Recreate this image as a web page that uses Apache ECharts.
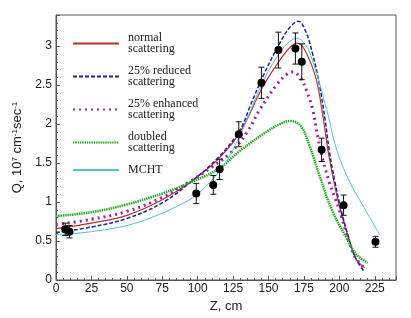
<!DOCTYPE html>
<html>
<head>
<meta charset="utf-8">
<script src="https://cdn.jsdelivr.net/npm/echarts/dist/echarts.min.js"></script>
<style>
html, body { margin: 0; padding: 0; background: #fff; }
#chart { width: 411px; height: 318px; }
</style>
</head>
<body>
<div id="chart"></div>
<script>
// measured points with error bars
const pointZ = [6.5, 9.5, 99, 111, 115.5, 129, 145, 157, 169, 173.5, 187.5, 203, 225.5];
const pointQ = [0.65, 0.62, 1.11, 1.22, 1.42, 1.87, 2.53, 2.95, 2.97, 2.80, 1.67, 0.96, 0.49];
const pointErr = [0.08, 0.08, 0.13, 0.12, 0.13, 0.16, 0.2, 0.23, 0.2, 0.23, 0.15, 0.13, 0.07];

// calculated curves
const normalZ = [0, 25, 50, 75, 96, 115, 130, 146, 158, 165, 170, 175, 183, 188, 192, 196, 200, 205, 211, 215, 218];
const normalQ = [0.66, 0.73, 0.83, 1.03, 1.27, 1.56, 1.90, 2.48, 2.82, 2.98, 3.04, 2.97, 2.62, 2.15, 1.66, 1.28, 0.95, 0.63, 0.30, 0.20, 0.16];

const reducedZ = [0, 25, 50, 75, 96, 115, 130, 137, 146, 158, 165, 171, 176, 181, 186, 190, 193, 197, 201, 206, 211, 217];
const reducedQ = [0.61, 0.68, 0.79, 0.99, 1.27, 1.58, 1.93, 2.23, 2.61, 3.04, 3.24, 3.32, 3.20, 2.91, 2.50, 2.05, 1.65, 1.25, 0.92, 0.58, 0.30, 0.12];

const enhancedZ = [0, 25, 50, 75, 96, 110, 123, 135, 144, 156, 163, 167, 173, 177, 181, 185, 189, 193, 197, 200, 205, 211, 218];
const enhancedQ = [0.71, 0.78, 0.88, 1.06, 1.28, 1.45, 1.63, 1.90, 2.19, 2.51, 2.64, 2.67, 2.58, 2.42, 2.20, 1.82, 1.50, 1.25, 1.05, 0.90, 0.60, 0.30, 0.15];

const doubledZ = [0, 25, 50, 75, 96, 115, 130, 146, 158, 165, 172.6, 179, 186, 195, 205, 212, 220];
const doubledQ = [0.82, 0.87, 0.97, 1.11, 1.26, 1.43, 1.66, 1.87, 2.00, 2.04, 1.98, 1.72, 1.34, 0.89, 0.54, 0.33, 0.22];

const mchtZ = [0, 25, 50, 70, 88, 99, 115, 128, 146, 158, 165, 170, 176, 181, 191, 198, 207, 216.5, 228.5];
const mchtQ = [0.58, 0.62, 0.70, 0.82, 0.97, 1.09, 1.39, 1.78, 2.54, 2.92, 3.06, 3.10, 3.02, 2.82, 2.19, 1.68, 1.27, 0.96, 0.58];

const pairs = (zs, qs) => zs.map((z, i) => [z, qs[i]]);

let myChart = echarts.init(document.getElementById("chart"));

// error bar: vertical line with small caps
const renderErr = (params, api) => {
  let lo = api.coord([api.value(0), api.value(1)]);
  let hi = api.coord([api.value(0), api.value(2)]);
  let st = { stroke: '#111', lineWidth: 1 };
  return {
    type: 'group',
    children: [
      { type: 'line', shape: { x1: lo[0], y1: lo[1], x2: hi[0], y2: hi[1] }, style: st },
      { type: 'line', shape: { x1: lo[0] - 3, y1: lo[1], x2: lo[0] + 3, y2: lo[1] }, style: st },
      { type: 'line', shape: { x1: hi[0] - 3, y1: hi[1], x2: hi[0] + 3, y2: hi[1] }, style: st }
    ]
  };
};

const curve = (name, data, color, width, type) => ({
  name: name,
  type: 'line',
  data: data,
  smooth: 0.4,
  symbol: 'none',
  lineStyle: { color: color, width: width, type: type },
  itemStyle: { color: color },
  z: 3
});

let option = {
  backgroundColor: '#fff',
  animation: false,
  textStyle: { fontFamily: 'Liberation Sans' },
  grid: {
    left: 56, right: 15, top: 15, bottom: 35,
    show: true, borderColor: '#555', borderWidth: 1
  },
  legend: {
    orient: 'vertical',
    left: 67,
    top: 27,
    itemWidth: 46,
    itemHeight: 10,
    itemGap: 10,
    itemStyle: { opacity: 0 },
    textStyle: {
      fontFamily: 'Liberation Serif',
      fontSize: 12,
      lineHeight: 11,
      color: '#222',
      padding: [0, 0, 0, 4]
    },
    data: [
      'normal\nscattering',
      '25% reduced\nscattering',
      '25% enhanced\nscattering',
      'doubled\nscattering',
      'MCHT'
    ]
  },
  xAxis: {
    type: 'value',
    min: 0,
    max: 240,
    interval: 25,
    name: 'Z, cm',
    nameLocation: 'middle',
    nameGap: 20,
    nameTextStyle: { fontSize: 13, color: '#222' },
    axisLine: { lineStyle: { color: '#555' } },
    axisTick: { inside: true, length: 4, lineStyle: { color: '#555' } },
    minorTick: { show: true, splitNumber: 5, length: 2, lineStyle: { color: '#555' } },
    splitLine: { show: false },
    axisLabel: { fontSize: 12, color: '#222', margin: 3, showMaxLabel: false }
  },
  yAxis: {
    type: 'value',
    min: 0,
    max: 3.4,
    interval: 0.5,
    name: 'Q, 10{s|7} cm{s|-1}sec{s|-1}',
    nameLocation: 'middle',
    nameGap: 29,
    nameTextStyle: {
      fontSize: 13,
      color: '#222',
      rich: { s: { fontSize: 8, verticalAlign: 'top', color: '#222', padding: [0, 0, 6, 0] } }
    },
    axisLine: { lineStyle: { color: '#555' } },
    axisTick: { inside: true, length: 4, lineStyle: { color: '#555' } },
    minorTick: { show: true, splitNumber: 5, length: 2, lineStyle: { color: '#555' } },
    splitLine: { show: false },
    axisLabel: { fontSize: 12, color: '#222', margin: 4, showMaxLabel: false }
  },
  series: [
    curve('normal\nscattering', pairs(normalZ, normalQ), '#c0302a', 1.2, 'solid'),
    curve('25% reduced\nscattering', pairs(reducedZ, reducedQ), '#22229a', 1.5, [4, 2]),
    curve('25% enhanced\nscattering', pairs(enhancedZ, enhancedQ), '#a020a0', 3, [2, 4]),
    curve('doubled\nscattering', pairs(doubledZ, doubledQ), '#22b022', 2.5, [1.5, 0.8]),
    curve('MCHT', pairs(mchtZ, mchtQ), '#4cc4d4', 1, 'solid'),
    {
      type: 'custom',
      renderItem: renderErr,
      data: pointZ.map((z, i) => [z, pointQ[i] - pointErr[i], pointQ[i] + pointErr[i]]),
      encode: { x: 0, y: [1, 2] },
      z: 4
    },
    {
      type: 'scatter',
      data: pairs(pointZ, pointQ),
      symbol: 'circle',
      symbolSize: 8,
      itemStyle: { color: '#000', opacity: 1 },
      z: 5
    }
  ]
};

myChart.setOption(option);
</script>
</body>
</html>
